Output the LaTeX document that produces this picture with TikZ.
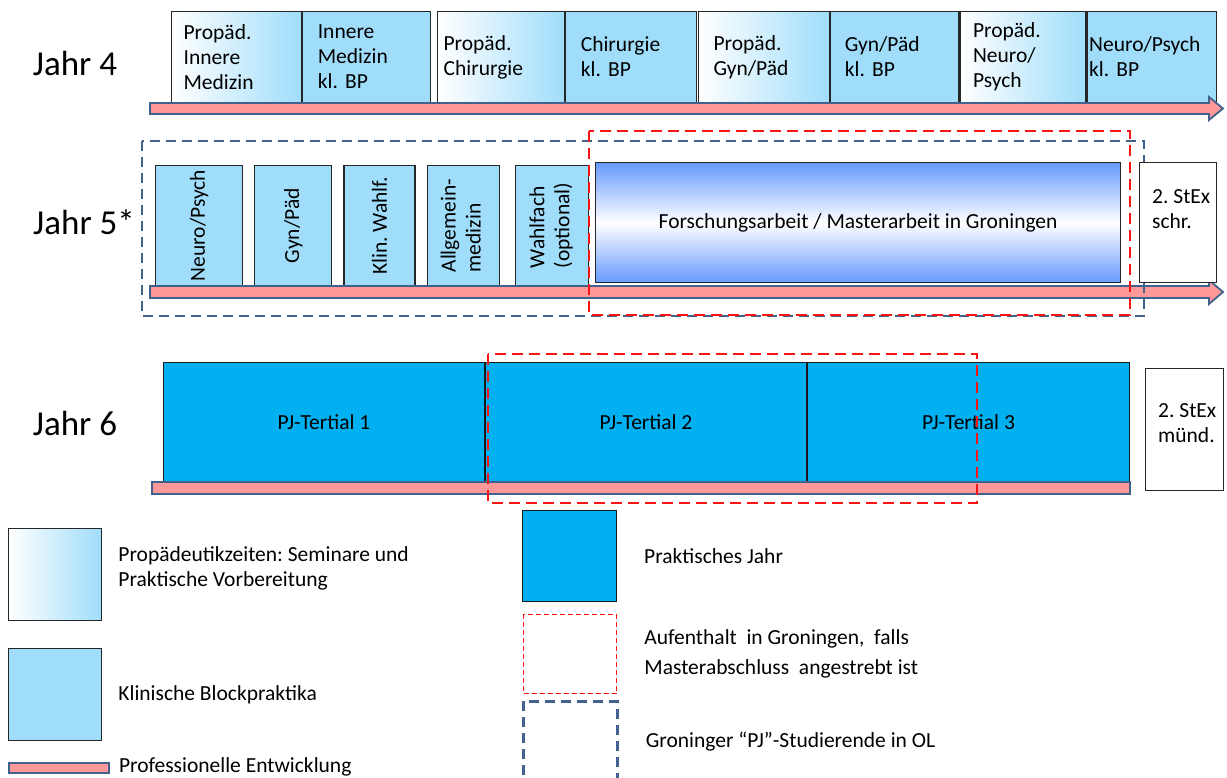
\documentclass[tikz,border=0pt]{standalone}
\usepackage{fontspec}
\setmainfont{Carlito}
\usetikzlibrary{positioning}
\definecolor{kblue}{RGB}{160,221,250}
\definecolor{pjblue}{RGB}{0,176,240}
\definecolor{fblue}{RGB}{102,153,255}
\definecolor{pdpink}{RGB}{255,153,153}
\definecolor{slate}{RGB}{65,98,140}
\definecolor{grred}{RGB}{250,20,20}
\frenchspacing
\tikzset{
    txt/.style={font=\fontsize{21.5}{25}\selectfont, inner sep=0pt},
    yearlabel/.style={font=\fontsize{35}{40}\selectfont, inner sep=0pt},
    kbox/.style={rectangle, draw=black!85, line width=1.2pt, fill=kblue, txt},
    propbox/.style={kbox, left color=white, right color=kblue},
    quarter/.style={minimum height=91pt, align=left},
    rotbox/.style={kbox, minimum height=120pt},
    pjbox/.style={rectangle, draw=black!90, line width=1pt, fill=pjblue, txt},
    stexbox/.style={rectangle, draw=black!85, line width=1.2pt, fill=white},
    pdbar/.style={draw=slate, line width=1.8pt, fill=pdpink},
    olframe/.style={draw=slate, line width=2.6pt, dash pattern=on 10pt off 6pt},
    groframe/.style={draw=grred, line width=2.6pt, dash pattern=on 11pt off 6pt},
    grolegend/.style={rectangle, draw=grred, line width=1.2pt, dash pattern=on 5pt off 3pt}
}
\begin{document}
\begin{tikzpicture}[x=1pt, y=-1pt]
    \path[use as bounding box, fill=white] (0,0) rectangle (1227,778);

    % Jahr 4
    \node[yearlabel] (j4) at (75,63) {Jahr 4};
    \node[propbox, quarter, minimum width=130pt, text width=106pt, anchor=north west] (p1) at (171,11) {Propäd.\\Innere\\Medizin};
    \node[kbox, quarter, minimum width=128pt, text width=98pt, right=0pt of p1] (k1) {Innere\\Medizin\\kl. BP};
    \node[propbox, quarter, minimum width=127pt, text width=115pt, anchor=north west] (p2) at (437,11) {Propäd.\\Chirurgie};
    \node[kbox, quarter, minimum width=131pt, text width=101pt, right=0pt of p2] (k2) {Chirurgie\\kl. BP};
    \node[propbox, quarter, minimum width=131pt, text width=101pt, anchor=north west] (p3) at (698,11) {Propäd.\\Gyn/Päd};
    \node[kbox, quarter, minimum width=128pt, text width=100pt, right=0pt of p3] (k3) {Gyn/Päd\\kl. BP};
    \node[propbox, quarter, minimum width=126pt, text width=100pt, right=0pt of k3] (p4) {Propäd.\\Neuro/\\Psych};
    \node[kbox, quarter, minimum width=129pt, text width=125pt, right=0pt of p4] (k4) {Neuro/Psych\\kl. BP};
    \draw[pdbar] (150,103) -- (1209,103) -- (1209,97) -- (1223,108.5) -- (1209,120) -- (1209,114) -- (150,114) -- cycle;

    % Jahr 5
    \node[yearlabel] (j5) at (84,222) {Jahr 5*};
    \node[rotbox, minimum width=87pt, anchor=north west] (r1) at (155,165) {\rotatebox{90}{Neuro/Psych}};
    \node[rotbox, minimum width=77pt, right=11pt of r1] (r2) {\rotatebox{90}{Gyn/Päd}};
    \node[rotbox, minimum width=71pt, right=11pt of r2] (r3) {\rotatebox{90}{Klin. Wahlf.}};
    \node[rotbox, minimum width=72pt, right=11pt of r3] (r4) {\rotatebox{90}{\begin{tabular}{@{}l@{}}Allgemein-\\medizin\end{tabular}}};
    \node[rotbox, minimum width=73pt, right=15pt of r4] (r5) {\rotatebox{90}{\begin{tabular}{@{}l@{}}Wahlfach\\(optional)\end{tabular}}};
    \node[kbox, top color=fblue, bottom color=fblue, middle color=white, minimum width=525pt, minimum height=120pt, anchor=north west] (fa) at (595,162) {Forschungsarbeit / Masterarbeit in Groningen};
    \draw[pdbar] (150,286) -- (1209,286) -- (1209,280) -- (1223,292) -- (1209,304) -- (1209,298) -- (150,298) -- cycle;
    \draw[olframe] (142,141) rectangle (1144,316);
    \node[stexbox, minimum width=77pt, minimum height=120pt, anchor=north west] (sx1) at (1139,162) {};
    \node[txt, align=left, anchor=north west] (sx1t) at ([xshift=13pt, yshift=-27pt]sx1.north west) {2. StEx\\schr.};
    \draw[groframe] (589,131) rectangle (1130,315);

    % Jahr 6
    \node[yearlabel] (j6) at (75,423) {Jahr 6};
    \node[pjbox, minimum width=321pt, minimum height=120pt, anchor=north west] (t1) at (163,362) {PJ-Tertial 1};
    \node[pjbox, minimum width=321pt, minimum height=120pt, right=0pt of t1] (t2) {PJ-Tertial 2};
    \node[pjbox, minimum width=322pt, minimum height=120pt, right=0pt of t2] (t3) {PJ-Tertial 3};
    \draw[pdbar] (152,482) rectangle (1130,494);
    \node[stexbox, minimum width=78pt, minimum height=122pt, anchor=north west] (sx2) at (1145,368) {};
    \node[txt, align=left, anchor=north west] (sx2t) at ([xshift=13pt, yshift=-35pt]sx2.north west) {2. StEx\\münd.};
    \draw[groframe] (488,354) rectangle (977,503);

    % Legende
    \node[propbox, minimum width=93pt, minimum height=92pt, anchor=north west] (leg1) at (8,528) {};
    \node[txt, align=left, right=16pt of leg1, yshift=6pt] (leg1t) {Propädeutikzeiten: Seminare und\\Praktische Vorbereitung};
    \node[kbox, minimum width=93pt, minimum height=92pt, anchor=north west] (leg2) at (8,648) {};
    \node[txt, right=16pt of leg2] (leg2t) {Klinische Blockpraktika};
    \node[pdbar, rectangle, minimum width=100pt, minimum height=10pt, inner sep=0pt, anchor=north west] (leg3) at (8,762) {};
    \node[txt, right=9pt of leg3, yshift=1pt] (leg3t) {Professionelle Entwicklung};
    \node[pjbox, minimum width=94pt, minimum height=91pt, anchor=north west] (leg4) at (522,510) {};
    \node[txt, right=27pt of leg4] (leg4t) {Praktisches Jahr};
    \node[grolegend, minimum width=93pt, minimum height=79pt, anchor=north west] (leg5) at (523,614) {};
    \node[txt, align=left, right=27pt of leg5] (leg5t) {Aufenthalt\ \ in Groningen,\ \ falls\\[5pt]Masterabschluss\ \ angestrebt ist};
    \node[olframe, rectangle, minimum width=94pt, minimum height=100pt, anchor=north west] (leg6) at (522,700) {};
    \node[txt, right=27pt of leg6, yshift=10pt] (leg6t) {Groninger “PJ”-Studierende in OL};
\end{tikzpicture}
\end{document}
